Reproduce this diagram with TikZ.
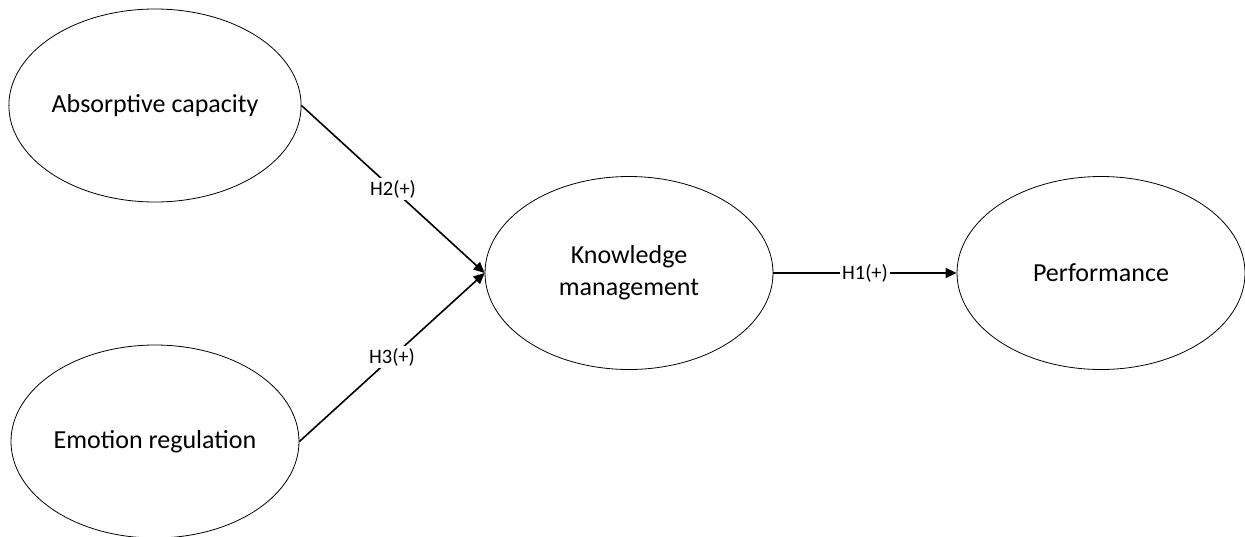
\documentclass[tikz,border=0pt]{standalone}
\usepackage{fontspec}
\setmainfont{Carlito}
\usetikzlibrary{shapes.geometric,arrows.meta}
\begin{document}
\begin{tikzpicture}[x=1pt,y=-1pt,
  construct/.style={draw=black,line width=0.8pt,ellipse,minimum width=288pt,minimum height=193pt,inner sep=0pt,align=center,font=\fontsize{26}{32}\selectfont},
  path/.style={draw=black,line width=1.6pt},
  arrowpath/.style={path,-{Triangle[length=11pt,width=10pt]}},
  hyp/.style={fill=white,inner sep=2pt,font=\fontsize{20.5}{24}\selectfont}]
\useasboundingbox (0,0) rectangle (1245,536);
\node[construct] (ac) at (155,105.5) {Absorptive capacity};
\node[construct] (er) at (155,441.5) {Emotion regulation};
\node[construct] (km) at (629,273) {Knowledge\\management};
\node[construct] (pf) at (1101,273) {Performance};
\draw[arrowpath] (ac.east) -- node[hyp] {H2(+)} (km.west);
\draw[arrowpath] (er.east) -- node[hyp] {H3(+)} (km.west);
\draw[arrowpath] (km.east) -- node[hyp] {H1(+)} (pf.west);
\end{tikzpicture}
\end{document}
